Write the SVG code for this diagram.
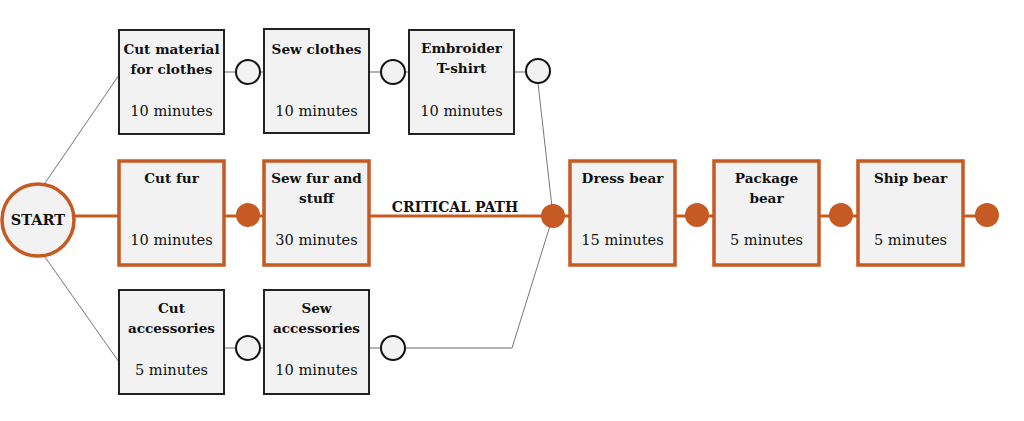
<svg xmlns="http://www.w3.org/2000/svg" width="1024" height="421" viewBox="0 0 1024 421">
<style>
.box{fill:#f2f2f2;stroke:#222;stroke-width:2}
.crit{fill:#f2f2f2;stroke:#c55a22;stroke-width:3.5}
.ev{fill:#f2f2f2;stroke:#111;stroke-width:2}
.evc{fill:#c55a22;stroke:none}
.gl{stroke:#777;stroke-width:1;fill:none}
.gl2{stroke:#999;stroke-width:1.5;fill:none}
.cl{stroke:#c55a22;stroke-width:3;fill:none}
.t{font-family:"DejaVu Serif","Liberation Serif",serif;font-weight:bold;font-size:13.6px;fill:#111;text-anchor:middle}
.m{font-family:"DejaVu Serif","Liberation Serif",serif;font-size:14.6px;fill:#111;text-anchor:middle}
</style>
<g id="connectors">
<path class="gl" d="M45,183 L119,75"/>
<path class="gl" d="M45,257 L119,362"/>
<path class="gl2" d="M224,72 L236,72 M260,72 L264,72 M369,72 L381,72 M405,72 L409,72 M514,72 L526,72"/>
<path class="gl" d="M538,83 L553,216 L512,348"/>
<path class="gl2" d="M224,348 L236,348 M260,348 L264,348 M369,348 L381,348 M405,348 L512,348"/>
<path class="cl" d="M75,216 L119,216 M224,216 L264,216 M369,216 L570,216 M675,216 L714,216 M820,216 L858,216 M964,216 L987,216"/>
<text class="t" x="455" y="212" style="font-size:14px">CRITICAL PATH</text>
</g>
<g id="start"><circle cx="38" cy="220" r="36" fill="#f2f2f2" stroke="#c55a22" stroke-width="3.5"/><text class="t" x="38" y="225" style="font-size:14.5px">START</text></g>
<g id="cut-material"><rect class="box" x="119" y="30" width="105" height="104"/><text class="t" x="171.5" y="54">Cut material</text><text class="t" x="171.5" y="74">for clothes</text><text class="m" x="171.5" y="116">10 minutes</text></g>
<g id="sew-clothes"><rect class="box" x="264" y="29" width="105" height="104"/><text class="t" x="316.5" y="54">Sew clothes</text><text class="m" x="316.5" y="116">10 minutes</text></g>
<g id="embroider"><rect class="box" x="409" y="30" width="105" height="104"/><text class="t" x="461.5" y="53">Embroider</text><text class="t" x="461.5" y="73">T-shirt</text><text class="m" x="461.5" y="116">10 minutes</text></g>
<g id="ev1"><circle class="ev" cx="248" cy="72" r="12"/></g>
<g id="ev2"><circle class="ev" cx="393" cy="72" r="12"/></g>
<g id="ev3"><circle class="ev" cx="538" cy="71" r="12"/></g>
<g id="cut-fur"><rect class="crit" x="119" y="161" width="105" height="104"/><text class="t" x="171.5" y="183">Cut fur</text><text class="m" x="171.5" y="245">10 minutes</text></g>
<g id="sew-fur"><rect class="crit" x="264" y="161" width="105" height="104"/><text class="t" x="316.5" y="183">Sew fur and</text><text class="t" x="316.5" y="203">stuff</text><text class="m" x="316.5" y="245">30 minutes</text></g>
<g id="dress"><rect class="crit" x="570" y="161" width="105" height="104"/><text class="t" x="622.5" y="183">Dress bear</text><text class="m" x="622.5" y="245">15 minutes</text></g>
<g id="package"><rect class="crit" x="714" y="161" width="105" height="104"/><text class="t" x="766.5" y="183">Package</text><text class="t" x="766.5" y="203">bear</text><text class="m" x="766.5" y="245">5 minutes</text></g>
<g id="ship"><rect class="crit" x="858" y="161" width="105" height="104"/><text class="t" x="910.5" y="183">Ship bear</text><text class="m" x="910.5" y="245">5 minutes</text></g>
<g id="cev1"><circle class="evc" cx="248" cy="215" r="12"/></g>
<g id="cev2"><circle class="evc" cx="553" cy="216" r="12"/></g>
<g id="cev3"><circle class="evc" cx="697" cy="215" r="12"/></g>
<g id="cev4"><circle class="evc" cx="841" cy="215" r="12"/></g>
<g id="cev5"><circle class="evc" cx="987" cy="215" r="12"/></g>
<g id="cut-acc"><rect class="box" x="119" y="290" width="105" height="104"/><text class="t" x="171.5" y="313">Cut</text><text class="t" x="171.5" y="333">accessories</text><text class="m" x="171.5" y="375">5 minutes</text></g>
<g id="sew-acc"><rect class="box" x="264" y="290" width="105" height="104"/><text class="t" x="316.5" y="313">Sew</text><text class="t" x="316.5" y="333">accessories</text><text class="m" x="316.5" y="375">10 minutes</text></g>
<g id="ev4"><circle class="ev" cx="248" cy="348" r="12"/></g>
<g id="ev5"><circle class="ev" cx="393" cy="348" r="12"/></g>
</svg>
